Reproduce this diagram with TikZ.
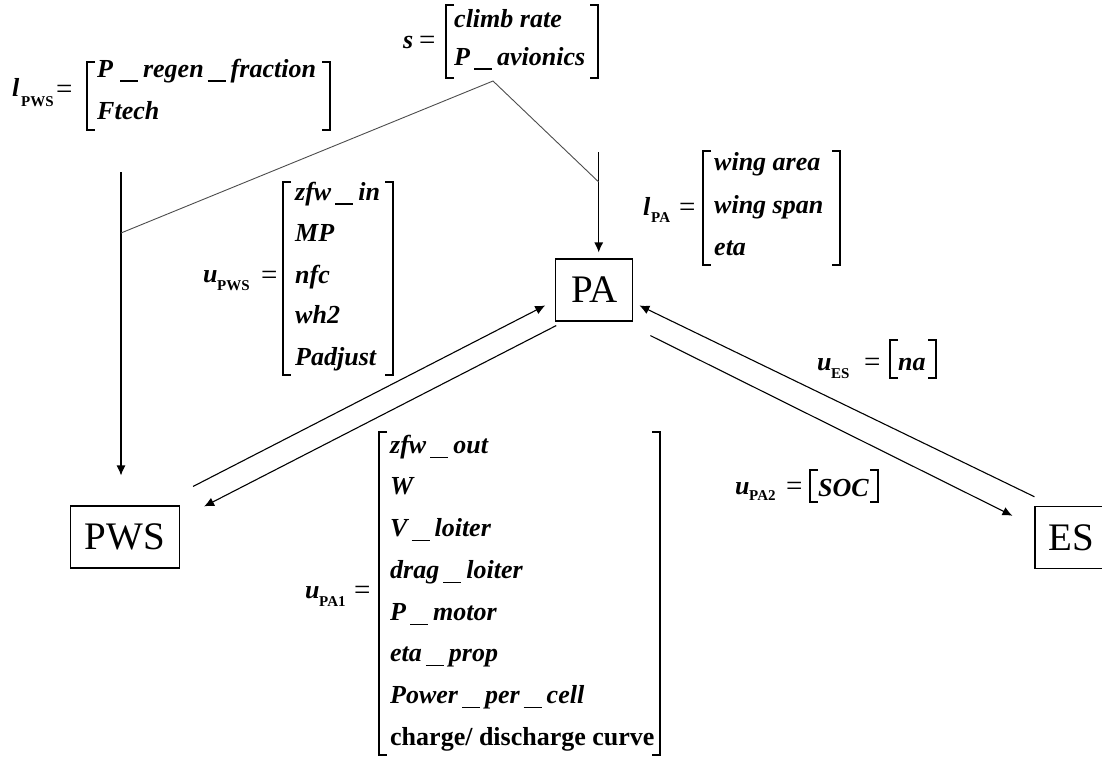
\documentclass[tikz,border=0pt]{standalone}
\usepackage{fontspec}
\setmainfont{Liberation Serif}
\usetikzlibrary{arrows.meta,calc}
% vector entries: bold italic; subscripts: small bold upright
\newcommand\mt{\fontsize{26}{30}\selectfont\bfseries\itshape}
\newcommand\subf{\fontsize{15}{15}\selectfont\bfseries\upshape}
\newcommand\us{\kern4pt\rule[-4.5pt]{18pt}{1.3pt}\kern5pt}
% square brackets of the vectors: x, top, bottom
\newcommand\lbr[3]{\draw[brk] (#1+8,#2) -- (#1,#2) -- (#1,#3) -- (#1+8,#3);}
\newcommand\rbr[3]{\draw[brk] (#1-8,#2) -- (#1,#2) -- (#1,#3) -- (#1-8,#3);}
\begin{document}
\begin{tikzpicture}[x=1pt,y=-1pt,
  blk/.style={draw,line width=1.1pt,inner sep=0pt,font=\fontsize{39}{39}\selectfont},
  txt/.style={anchor=base west,inner sep=0pt,font=\mt},
  sb/.style={anchor=base west,inner sep=0pt,font=\subf},
  eq/.style={anchor=base west,inner sep=0pt,font=\fontsize{29}{30}\selectfont},
  brk/.style={line width=2.3pt,line join=miter},
  arr/.style={line width=1.1pt,-{Latex[length=10pt,width=9pt]}},
  feed/.style={line width=0.9pt,black!70},
]
\useasboundingbox (0,0) rectangle (1102,758);

% subsystem blocks
\node[blk,minimum width=109pt,minimum height=62pt] (PWS) at (125,537) {PWS};
\node[blk,minimum width=77pt,minimum height=62pt] (PA) at (594.3,290) {PA};
\node[blk,minimum width=72pt,minimum height=62pt] (ES) at (1071,537.3) {ES};

% parameter feeds from above
\coordinate (pwsTop) at (121,172);
\coordinate (pwsJoin) at (121,233);
\coordinate (paTop) at (598.7,152);
\coordinate (paJoin) at (598.7,182);
\coordinate (sFork) at (493,81);
\draw[arr,shorten >=30pt] (pwsTop) -- (pwsTop |- PWS.north);
\draw[arr,shorten >=6pt] (paTop) -- (paTop |- PA.north);
\draw[feed] (pwsJoin) -- (sFork) -- (paJoin);

% couplings between the blocks
\draw[arr] ([shift={(13,-19)}]PWS.north east) -- ([shift={(-10,47)}]PA.north west);
\draw[arr] ([shift={(1,4)}]PA.south west) -- ([shift={(24,1)}]PWS.north east);
\draw[arr] ([shift={(0,-9)}]ES.north west) -- ([shift={(6,47)}]PA.north east);
\draw[arr] ([shift={(17,14)}]PA.south east) -- ([shift={(-22,10)}]ES.north west);

% l_PWS
\node[txt] (lpws) at (12,96) {l};
\node[sb] (lpwsS) at (21,106) {PWS};
\node[eq] (lpwsE) at (56,98) {=};
\lbr{87}{62}{130} \rbr{330}{62}{130}
\node[txt] (lpws1) at (97,77) {P\kern3pt\us regen\us fraction};
\node[txt] (lpws2) at (97,119) {Ftech};

% s
\node[txt] (s) at (403,48) {s};
\node[eq] (sE) at (419,49) {=};
\lbr{446}{5}{78} \rbr{598}{5}{78}
\node[txt] (s1) at (454,27) {climb rate};
\node[txt] (s2) at (454,65) {P\us avionics};

% l_PA
\node[txt] (lpa) at (643,215) {l};
\node[sb] (lpaS) at (651,222) {PA};
\node[eq] (lpaE) at (679,216) {=};
\lbr{703}{151}{265} \rbr{840}{151}{265}
\node[txt] (lpa1) at (714,170) {wing area};
\node[txt] (lpa2) at (714,213) {wing span};
\node[txt] (lpa3) at (714,255) {eta};

% u_PWS
\node[txt] (upws) at (203,282) {u};
\node[sb] (upwsS) at (217,290) {PWS};
\node[eq] (upwsE) at (261,284) {=};
\lbr{283}{182}{375} \rbr{393}{182}{375}
\node[txt] (upws1) at (295,200) {zfw\us in};
\node[txt] (upws2) at (295,241.7) {MP};
\node[txt] (upws3) at (295,283.3) {nfc};
\node[txt] (upws4) at (295,323.3) {wh2};
\node[txt] (upws5) at (295,365) {Padjust};

% u_PA1
\node[txt] (upa) at (305,598) {u};
\node[sb] (upaS) at (319,606.7) {PA1};
\node[eq] (upaE) at (354,599) {=};
\lbr{379}{432}{755} \rbr{660}{432}{755}
\node[txt] (upa1) at (390,453.3) {zfw\us out};
\node[txt] (upa2) at (390,494) {W};
\node[txt] (upa3) at (390,536.7) {V\us loiter};
\node[txt] (upa4) at (390,578.3) {drag\us loiter};
\node[txt] (upa5) at (390,620.7) {P\us motor};
\node[txt] (upa6) at (390,661.7) {eta\us prop};
\node[txt] (upa7) at (390,703.3) {Power\us per\us cell};
\node[txt] (upa8) at (390,745) {\upshape charge/ discharge curve};

% u_ES
\node[txt] (ues) at (817,370) {u};
\node[sb] (uesS) at (831,378) {ES};
\node[eq] (uesE) at (864,371) {=};
\lbr{890}{340}{378} \rbr{936}{340}{378}
\node[txt] (ues1) at (898,370) {na};

% u_PA2
\node[txt] (upb) at (735,494) {u};
\node[sb] (upbS) at (749,500) {PA2};
\node[eq] (upbE) at (786,495) {=};
\lbr{810}{470}{502} \rbr{878}{470}{502}
\node[txt] (upb1) at (818,496) {SOC};
\end{tikzpicture}
\end{document}
